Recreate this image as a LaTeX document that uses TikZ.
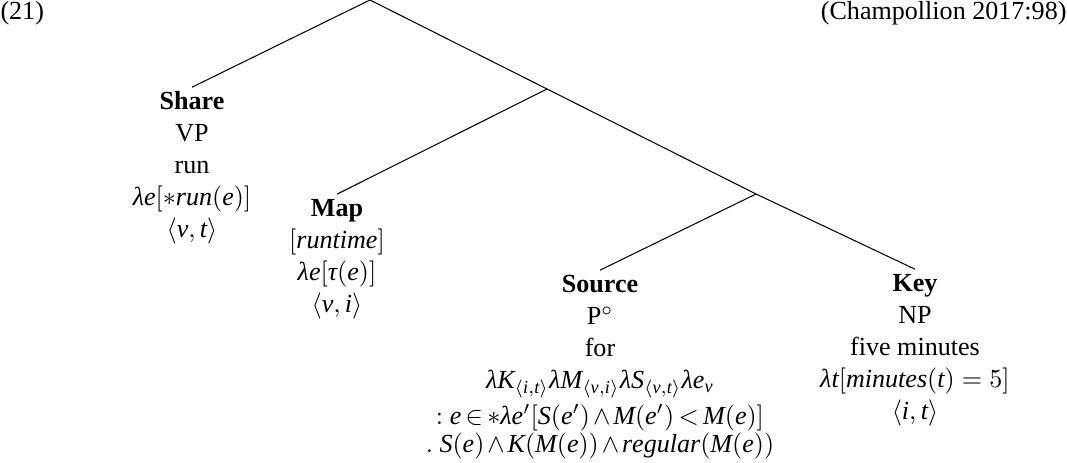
\documentclass[tikz,border=0pt]{standalone}
\usepackage{fontspec}
\setmainfont{Liberation Serif}
\newfontfamily\libserif{Liberation Serif}[NFSSFamily=libser]
\DeclareSymbolFont{libit}{TU}{libser}{m}{it}
\DeclareSymbolFont{libup}{TU}{libser}{m}{n}
\makeatletter
\@tempcnta=`a
\loop \Umathcode\@tempcnta="7 \symlibit \@tempcnta
\ifnum\@tempcnta<`z \advance\@tempcnta by 1 \repeat
\@tempcnta=`A
\loop \Umathcode\@tempcnta="7 \symlibit \@tempcnta
\ifnum\@tempcnta<`Z \advance\@tempcnta by 1 \repeat
\@tempcnta=`0
\loop \Umathcode\@tempcnta="0 \symlibup \@tempcnta
\ifnum\@tempcnta<`9 \advance\@tempcnta by 1 \repeat
\makeatother
\Umathcode`(="4 \symlibup `(
\Umathcode`)="5 \symlibup `)
\Umathcode`[="4 \symlibup `[
\Umathcode`]="5 \symlibup `]
\Umathchardef\lambda="0 \symlibit "03BB
\Umathchardef\tau="0 \symlibit "03C4
\newcommand\tightm[1]{$\medmuskip=2mu\thickmuskip=3mu #1$}
\begin{document}
\begin{tikzpicture}[x=0.3834pt,y=-0.3834pt,
  leaf/.style={anchor=base,inner sep=0pt,font=\fontsize{10}{12.2}\selectfont},
  branch/.style={line width=0.4pt}]
\useasboundingbox (0,0) rectangle (1067,463);
\node[anchor=base west,inner sep=0pt] (num) at (0,20) {(21)};
\node[anchor=base east,inner sep=0pt] (cite) at (1067,20) {(Champollion 2017:98)};
\coordinate (root) at (370,0);
\coordinate (n1) at (547,89);
\coordinate (n2) at (756,194);
\node[leaf] (share) at (192,110) {\begin{tabular}[t]{@{}c@{}}\textbf{Share}\\VP\\run\\$\lambda e[{\ast}run(e)]$\\$\langle v,t\rangle$\end{tabular}};
\node[leaf] (map) at (337,217) {\begin{tabular}[t]{@{}c@{}}\textbf{Map}\\$[runtime]$\\$\lambda e[\tau(e)]$\\$\langle v,i\rangle$\end{tabular}};
\node[leaf] (source) at (600,293) {\begin{tabular}[t]{@{}c@{}}\textbf{Source}\\P$^\circ$\\for\\$\lambda K_{\langle i,t\rangle}\lambda M_{\langle v,i\rangle}\lambda S_{\langle v,t\rangle}\lambda e_v$\\[1.5pt]\tightm{{:}\ e\in {\ast}\lambda e'[S(e')\wedge M(e')<M(e)]}\\[-1.5pt]\tightm{.\ S(e)\wedge K(M(e))\wedge regular(M(e))}\end{tabular}};
\node[leaf] (key) at (915,292) {\begin{tabular}[t]{@{}c@{}}\textbf{Key}\\NP\\five minutes\\$\lambda t[minutes(t)=5]$\\$\langle i,t\rangle$\end{tabular}};
\draw[branch] (root) -- (share.north);
\draw[branch] (root) -- (n1);
\draw[branch] (n1) -- (map.north);
\draw[branch] (n1) -- (n2);
\draw[branch] (n2) -- (source.north);
\draw[branch] (n2) -- (key.north);
\end{tikzpicture}
\end{document}
